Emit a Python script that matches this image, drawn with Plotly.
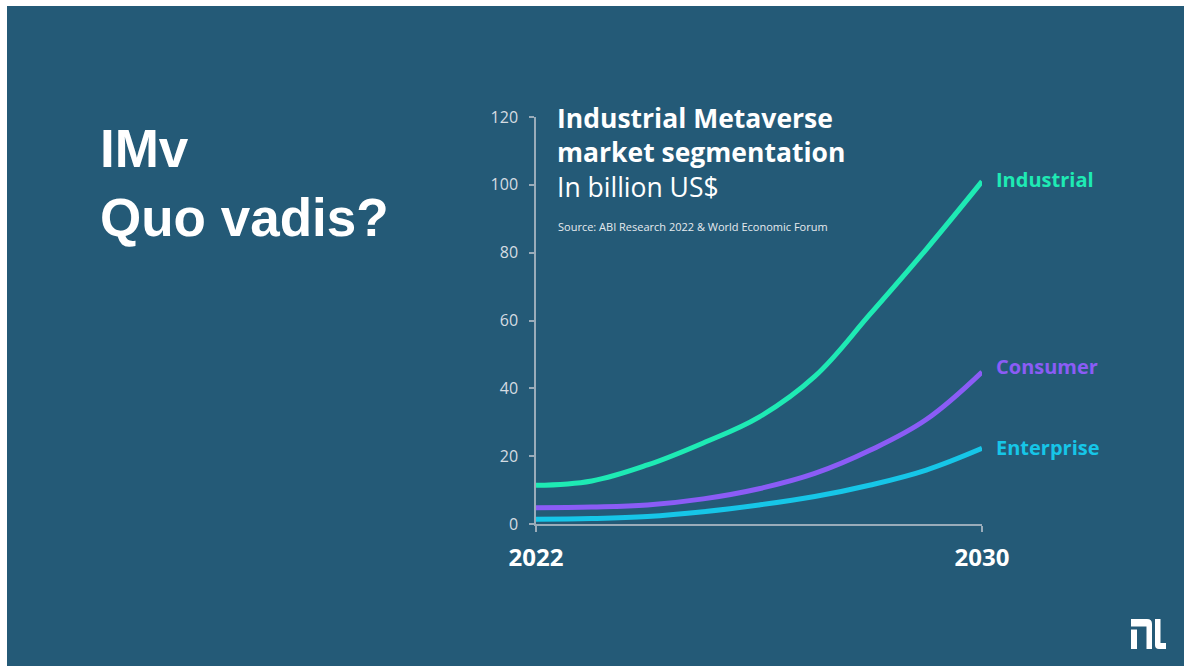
import plotly.graph_objects as go

# Market forecast, billion US$
years = [2022, 2023, 2024, 2025, 2026, 2027, 2028, 2029, 2030]
industrial = [11.4, 12.7, 17.4, 23.9, 31.5, 43.5, 62.0, 81.0, 101.0]
consumer = [4.8, 5.0, 5.6, 7.4, 10.4, 14.9, 21.8, 30.8, 44.8]
enterprise = [1.4, 1.6, 2.2, 3.6, 5.6, 8.1, 11.5, 15.9, 22.3]

series_names = ["Industrial", "Consumer", "Enterprise"]
series_values = [industrial, consumer, enterprise]
series_colors = ["#1eeab4", "#8b5cf6", "#16c6e8"]
label_yshift = [2, 6, 1]

x_ticks = [2022, 2030]
y_ticks = [0, 20, 40, 60, 80, 100, 120]

W, H = 1184, 666
BG = "#245a77"
ML, MR, MT, MB = 536, 202, 117, 142
PW, PH = W - ML - MR, H - MT - MB


def px(x):
    return (x - ML) / PW


def py(y):
    return (H - MB - y) / PH


fig = go.Figure()

for name, vals, col in zip(series_names, series_values, series_colors):
    fig.add_trace(go.Scatter(
        x=years, y=vals, mode="lines", name=name,
        line=dict(color=col, width=5, shape="spline", smoothing=1.1),
        hoverinfo="skip", showlegend=False,
    ))

annotations = []

# end-of-line series labels
for name, vals, col, ys in zip(series_names, series_values, series_colors, label_yshift):
    annotations.append(dict(
        x=years[-1], y=vals[-1], xref="x", yref="y",
        text=f"<b>{name}</b>", showarrow=False,
        xanchor="left", yanchor="middle", xshift=12, yshift=ys,
        font=dict(family="Open Sans", size=20, color=col),
    ))

# chart heading block
annotations.append(dict(
    x=px(555), y=py(153), xref="paper", yref="paper",
    text="<b>Industrial Metaverse</b><br><b>market segmentation</b><br>In billion US$",
    showarrow=False, xanchor="left", yanchor="middle", align="left",
    font=dict(family="Open Sans", size=26.5, color="#ffffff"),
))
annotations.append(dict(
    x=px(556), y=py(226), xref="paper", yref="paper",
    text="Source: ABI Research 2022 & World Economic Forum", showarrow=False,
    xanchor="left", yanchor="middle",
    font=dict(family="Open Sans", size=11, color="#e6ebef"),
))

# slide title
annotations.append(dict(
    x=px(98), y=py(183), xref="paper", yref="paper",
    text="<b>IMv</b><br><b>Quo vadis?</b>", showarrow=False,
    xanchor="left", yanchor="middle", align="left",
    font=dict(family="Liberation Sans", size=53, color="#ffffff"),
))


def path(points, close=True):
    s = ""
    for i, p in enumerate(points):
        if p[0] == "Q":
            _, cx, cy, x, y = p
            s += f" Q {px(cx):.5f},{py(cy):.5f} {px(x):.5f},{py(y):.5f}"
        else:
            x, y = p
            s += (" M " if i == 0 else " L ") + f"{px(x):.5f},{py(y):.5f}"
    return s + (" Z" if close else "")


shapes = [
    # white page edge at top and left
    dict(type="rect", xref="paper", yref="paper", x0=px(0), x1=px(W), y0=py(0), y1=py(6),
         fillcolor="#ffffff", line=dict(width=0), layer="above"),
    dict(type="rect", xref="paper", yref="paper", x0=px(0), x1=px(7), y0=py(0), y1=py(H),
         fillcolor="#ffffff", line=dict(width=0), layer="above"),
    # corner logo
    dict(type="path", xref="paper", yref="paper", layer="above",
         path=path([(1131, 619), (1147, 619), ("Q", 1152, 619, 1152, 624),
                    (1152, 649), (1146.5, 649), (1146.5, 626.5), (1131, 626.5)]),
         fillcolor="#ffffff", line=dict(width=0)),
    dict(type="rect", xref="paper", yref="paper", layer="above",
         x0=px(1131), x1=px(1137), y0=py(649), y1=py(629.5),
         fillcolor="#ffffff", line=dict(width=0)),
    dict(type="path", xref="paper", yref="paper", layer="above",
         path=path([(1155, 619), (1160.5, 619), (1160.5, 643), (1166, 643),
                    (1166, 649), (1159, 649), ("Q", 1155, 649, 1155, 645)]),
         fillcolor="#ffffff", line=dict(width=0)),
]

fig.update_layout(
    width=W, height=H,
    margin=dict(l=ML, r=MR, t=MT, b=MB, pad=0),
    paper_bgcolor=BG, plot_bgcolor=BG,
    annotations=annotations, shapes=shapes,
    showlegend=False,
    xaxis=dict(
        range=[2022, 2030], tickvals=x_ticks, ticktext=[f"<b>{t}</b>" for t in x_ticks],
        showgrid=False, zeroline=False, showline=True, linecolor="#9aacba", linewidth=1.5,
        ticks="outside", ticklen=6, tickcolor="#9aacba", tickwidth=1.5,
        tickfont=dict(family="Open Sans", size=24, color="#ffffff"),
        ticklabelstandoff=5, fixedrange=True,
    ),
    yaxis=dict(
        range=[0, 120], tickvals=y_ticks,
        showgrid=False, zeroline=False, showline=True, linecolor="#9aacba", linewidth=1.5,
        ticks="outside", ticklen=5, tickcolor="#9aacba", tickwidth=1.5,
        tickfont=dict(family="Open Sans", size=16, color="#d5dce2"),
        ticklabelstandoff=8, fixedrange=True,
    ),
)

fig.write_html("out.html", config=dict(displayModeBar=False))
